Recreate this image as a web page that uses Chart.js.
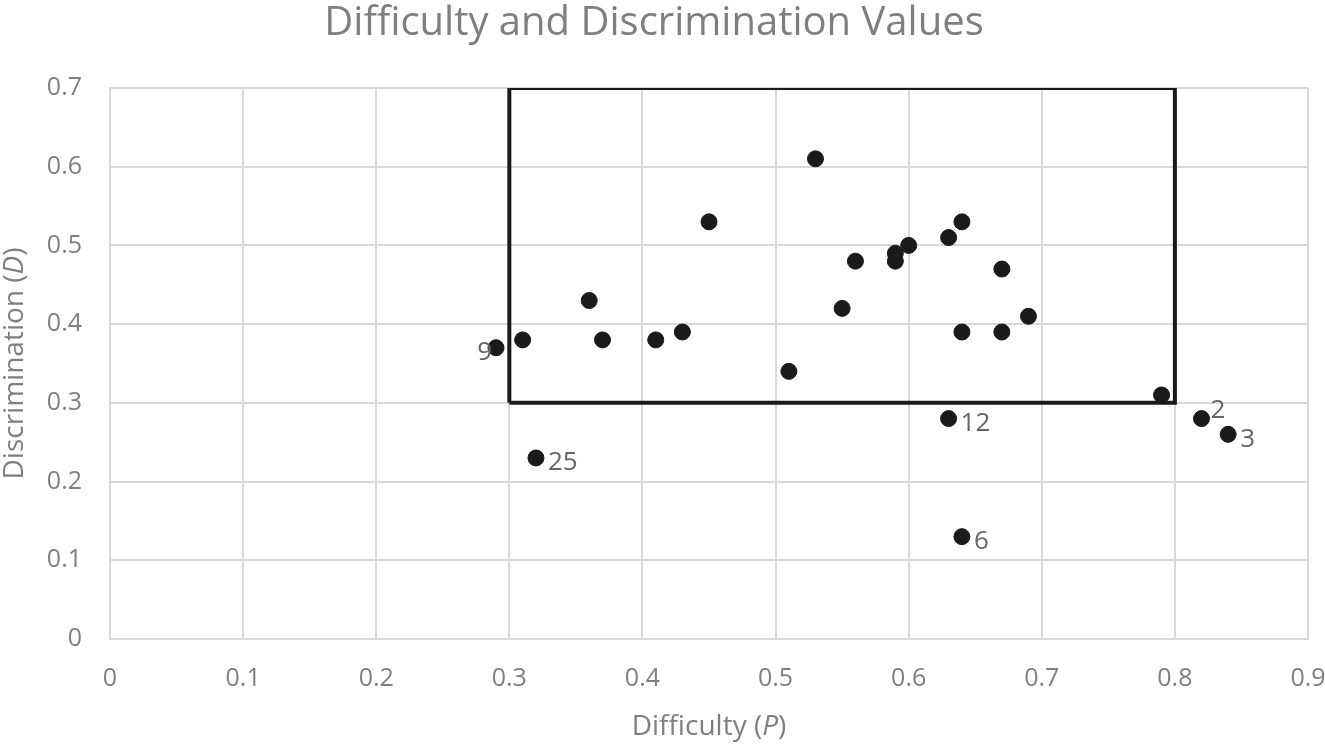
<!DOCTYPE html>
<html>
<head>
<meta charset="utf-8">
<script src="https://cdn.jsdelivr.net/npm/chart.js@4"></script>
<style>
  html, body { margin: 0; padding: 0; background: #fff; }
  #wrap { width: 1325px; height: 744px; }
</style>
</head>
<body>
<div id="wrap"><canvas id="scatter" width="1325" height="744"></canvas></div>
<script>
// Données
const difficulty = [0.29, 0.31, 0.32, 0.36, 0.37, 0.41, 0.43, 0.45, 0.51, 0.53, 0.55, 0.56, 0.59, 0.59, 0.60, 0.63, 0.64, 0.67, 0.64, 0.67, 0.69, 0.63, 0.64, 0.79, 0.82, 0.84];
const discrimination = [0.37, 0.38, 0.23, 0.43, 0.38, 0.38, 0.39, 0.53, 0.34, 0.61, 0.42, 0.48, 0.49, 0.48, 0.50, 0.51, 0.53, 0.47, 0.39, 0.39, 0.41, 0.28, 0.13, 0.31, 0.28, 0.26];
const itemLabels = ['9', '', '25', '', '', '', '', '', '', '', '', '', '', '', '', '', '', '', '', '', '', '12', '6', '', '2', '3'];
const boxX = [0.3, 0.8, 0.8, 0.3, 0.3];
const boxY = [0.3, 0.3, 0.7, 0.7, 0.3];
const xTickLabels = ['0', '0.1', '0.2', '0.3', '0.4', '0.5', '0.6', '0.7', '0.8', '0.9'];
const yTickLabels = ['0', '0.1', '0.2', '0.3', '0.4', '0.5', '0.6', '0.7'];
// Titres des axes : [texte, italique ?]
const xTitle = [['Difficulty (', false], ['P', true], [')', false]];
const yTitle = [['Discrimination (', false], ['D', true], [')', false]];

const police = "'Open Sans', 'Liberation Sans', sans-serif";
const gris = '#7f7f7f';

// Écrire un titre en morceaux (pour l'italique)
function ecrireMorceaux(ctx, morceaux, cx, cy) {
    const fonte = (it) => (it ? 'italic ' : '') + '28px ' + police;
    let total = 0;
    morceaux.forEach(m => { ctx.font = fonte(m[1]); total += ctx.measureText(m[0]).width; });
    let x = cx - total / 2;
    ctx.textAlign = 'left';
    ctx.textBaseline = 'middle';
    morceaux.forEach(m => {
        ctx.font = fonte(m[1]);
        ctx.fillText(m[0], x, cy);
        x += ctx.measureText(m[0]).width;
    });
}

// Étiquettes des points et titres des axes
const etiquettes = {
    id: 'etiquettes',
    afterDatasetsDraw(chart) {
        const ctx = chart.ctx;
        const meta = chart.getDatasetMeta(1);
        ctx.save();
        ctx.font = '26px ' + police;
        ctx.fillStyle = '#666666';
        ctx.textBaseline = 'middle';
        meta.data.forEach((pt, i) => {
            const txt = itemLabels[i];
            if (!txt) return;
            if (txt === '9') {
                ctx.textAlign = 'right';
                ctx.fillText(txt, pt.x - 4, pt.y + 5);
            } else if (txt === '2') {
                ctx.textAlign = 'left';
                ctx.fillText(txt, pt.x + 9, pt.y - 8);
            } else {
                ctx.textAlign = 'left';
                ctx.fillText(txt, pt.x + 12, pt.y + 5);
            }
        });
        ctx.restore();
    },
    afterDraw(chart) {
        const ctx = chart.ctx;
        const a = chart.chartArea;
        ctx.save();
        ctx.fillStyle = gris;
        ecrireMorceaux(ctx, xTitle, (a.left + a.right) / 2, 727);
        ctx.translate(15, (a.top + a.bottom) / 2);
        ctx.rotate(-Math.PI / 2);
        ecrireMorceaux(ctx, yTitle, 0, 0);
        ctx.restore();
    }
};

const ctx = document.getElementById('scatter').getContext('2d');
new Chart(ctx, {
    type: 'scatter',
    data: {
        datasets: [{
            label: 'Cadre',
            data: boxX.map((x, i) => ({ x: x, y: boxY[i] })),
            showLine: true,
            borderColor: '#1a1a1a',
            borderWidth: 4,
            pointRadius: 0,
            fill: false,
            order: 2
        }, {
            label: 'Items',
            data: difficulty.map((x, i) => ({ x: x, y: discrimination[i] })),
            backgroundColor: '#1a1a1a',
            borderColor: '#1a1a1a',
            pointRadius: 8,
            order: 1
        }]
    },
    plugins: [etiquettes],
    options: {
        responsive: false,
        animation: false,
        layout: { padding: { left: 0, right: 17, top: 0, bottom: 0 } },
        plugins: {
            legend: { display: false },
            tooltip: { enabled: false },
            title: {
                display: true,
                text: 'Difficulty and Discrimination Values',
                color: gris,
                font: { family: police, size: 40, weight: 'normal' },
                padding: { top: 0, bottom: 40 }
            }
        },
        scales: {
            x: {
                type: 'linear',
                min: 0,
                max: 0.9,
                ticks: {
                    stepSize: 0.1,
                    color: gris,
                    font: { family: police, size: 25 },
                    padding: 25,
                    callback: (v, i) => xTickLabels[i]
                },
                grid: { color: '#d9d9d9', lineWidth: 2, drawTicks: false },
                border: { color: '#d9d9d9', width: 2 },
                afterFit: (s) => { s.height = 105; s.paddingRight = 0; }
            },
            y: {
                type: 'linear',
                min: 0,
                max: 0.7,
                ticks: {
                    stepSize: 0.1,
                    color: gris,
                    font: { family: police, size: 25 },
                    padding: 28,
                    callback: (v, i) => yTickLabels[i]
                },
                grid: { color: '#d9d9d9', lineWidth: 2, drawTicks: false },
                border: { color: '#d9d9d9', width: 2 },
                afterFit: (s) => { s.width = 110; }
            }
        }
    }
});
</script>
</body>
</html>
